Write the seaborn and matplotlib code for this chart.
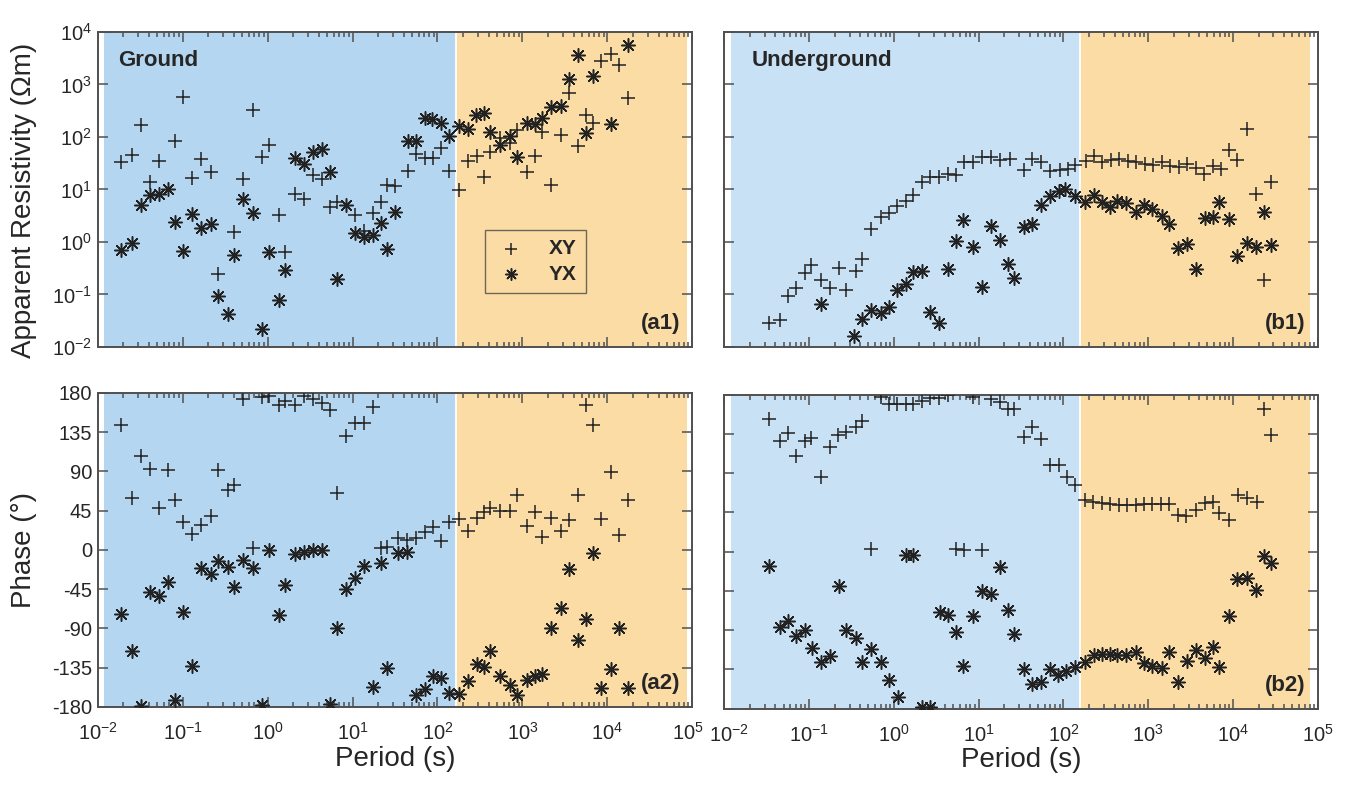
import numpy as np
import matplotlib.pyplot as plt
import seaborn as sns
from matplotlib.ticker import LogLocator, FixedLocator, NullLocator, NullFormatter
from matplotlib.transforms import ScaledTranslation

# values, stored as log10(period [s]) and
# log10(apparent resistivity [Ohm m]) / phase [deg]

# ---- Ground (a1, a2)
a1_xy_logT = [-1.72, -1.60, -1.49, -1.38, -1.28, -1.09, -1.00, -0.89, -0.78, -0.67, -0.58, -0.40, -0.29, -0.17,
              -0.07, 0.02, 0.13, 0.21, 0.32, 0.43, 0.53, 0.64, 0.74, 0.82, 1.03, 1.14, 1.24, 1.34, 1.41, 1.50,
              1.65, 1.75, 1.85, 1.95, 2.04, 2.14, 2.25, 2.36, 2.46, 2.55, 2.62, 2.73, 2.85, 2.94, 3.05, 3.15,
              3.23, 3.34, 3.45, 3.55, 3.65, 3.75, 3.83, 3.93, 4.04, 4.14, 4.24]
a1_xy_logrho = [1.53, 1.66, 2.23, 1.14, 1.54, 1.93, 2.77, 1.22, 1.58, 1.34, -0.61, 0.19, 1.20, 2.51,
                1.61, 1.84, 0.52, -0.19, 0.92, 0.82, 1.27, 1.20, 0.67, 0.76, 0.51, 0.20, 0.55, 0.77, 1.08, 1.07,
                1.36, 1.67, 1.60, 1.60, 1.79, 1.36, 0.99, 1.54, 1.63, 1.23, 1.72, 1.99, 1.88, 2.13, 1.34, 1.64,
                2.09, 1.09, 2.04, 2.83, 1.82, 2.42, 2.26, 3.44, 3.59, 3.37, 2.75]

a1_yx_logT = [-1.72, -1.60, -1.49, -1.38, -1.28, -1.17, -1.09, -1.00, -0.89, -0.78, -0.67, -0.58, -0.47, -0.40,
              -0.29, -0.17, -0.07, 0.02, 0.13, 0.21, 0.32, 0.43, 0.53, 0.64, 0.74, 0.82, 0.92, 1.03, 1.14, 1.24,
              1.34, 1.41, 1.50, 1.65, 1.75, 1.85, 1.94, 2.04, 2.14, 2.25, 2.36, 2.45, 2.55, 2.62, 2.73, 2.85,
              2.94, 3.05, 3.15, 3.23, 3.34, 3.45, 3.55, 3.65, 3.75, 3.83, 4.04, 4.24]
a1_yx_logrho = [-0.16, -0.02, 0.70, 0.90, 0.91, 1.01, 0.38, -0.18, 0.54, 0.27, 0.35, -1.03, -1.38, -0.24,
                0.82, 0.55, -1.65, -0.19, -1.11, -0.54, 1.60, 1.48, 1.71, 1.77, 1.33, -0.70, 0.70, 0.17, 0.10, 0.14,
                0.37, -0.13, 0.58, 1.93, 1.93, 2.37, 2.34, 2.26, 2.02, 2.21, 2.15, 2.42, 2.45, 2.09, 1.84, 2.02,
                1.61, 2.27, 2.25, 2.37, 2.58, 2.59, 3.11, 3.57, 2.07, 3.17, 2.25, 3.76]

a2_logT = [-1.72, -1.60, -1.49, -1.38, -1.28, -1.17, -1.09, -1.00, -0.89, -0.78, -0.67, -0.58, -0.47, -0.40,
           -0.29, -0.17, -0.07, 0.02, 0.13, 0.21, 0.32, 0.43, 0.53, 0.64, 0.74, 0.82, 0.92, 1.03, 1.14, 1.24,
           1.34, 1.41, 1.54, 1.64, 1.75, 1.85, 1.95, 2.04, 2.14, 2.25, 2.36, 2.46, 2.55, 2.62, 2.73, 2.85,
           2.94, 3.05, 3.15, 3.23, 3.34, 3.45, 3.55, 3.65, 3.75, 3.83, 3.93, 4.04, 4.14, 4.24]
a2_xy_phase = [143, 59, 108, 93, 48, 92, 57, 32, 18, 29, 39, 92, 69, 75,
               173, 2, 175, 176, 166, 171, 166, 177, 173, 169, 161, 65, 131, 145, 145, 164,
               2, 3, 14, 11, 14, 21, 26, 10, 32, 35, 22, 37, 44, 48, 45, 45,
               63, 28, 43, 15, 37, 22, 34, 63, 166, 143, 35, 89, 17, 57]
a2_yx_phase = [-73, -116, -179, -48, -53, -37, -172, -71, -133, -21, -28, -13, -20, -42,
               -11, -21, -178, 0, -75, -40, -5, -2, 0, 0, -177, -89, -45, -32, -18, -157,
               -15, -135, -4, -2, -166, -159, -145, -147, -164, -165, -150, -131, -134, -116, -145, -155,
               -166, -149, -144, -142, -90, -66, -22, -103, -79, -4, -158, -136, -89, -158]

# ---- Underground (b1, b2)
b1_xy_logT = [-1.47, -1.35, -1.25, -1.15, -1.05, -0.98, -0.86, -0.76, -0.65, -0.56, -0.45, -0.38, -0.27, -0.15,
              -0.06, 0.04, 0.14, 0.22, 0.33, 0.43, 0.53, 0.64, 0.73, 0.83, 0.93, 1.04, 1.14, 1.25, 1.37, 1.53,
              1.63, 1.74, 1.84, 1.96, 2.05, 2.14, 2.26, 2.36, 2.46, 2.56, 2.66, 2.76, 2.86, 2.96, 3.06, 3.16,
              3.26, 3.36, 3.46, 3.56, 3.66, 3.76, 3.86, 3.95, 4.05, 4.16, 4.27, 4.37, 4.45]
b1_xy_logrho = [-1.54, -1.49, -1.03, -0.87, -0.59, -0.43, -0.72, -0.87, -0.49, -0.91, -0.56, -0.32, 0.25, 0.47,
                0.56, 0.69, 0.79, 0.89, 1.15, 1.23, 1.23, 1.30, 1.28, 1.52, 1.52, 1.61, 1.61, 1.56, 1.58, 1.37,
                1.58, 1.52, 1.36, 1.37, 1.39, 1.47, 1.54, 1.63, 1.53, 1.56, 1.58, 1.55, 1.53, 1.49, 1.47, 1.52,
                1.44, 1.42, 1.48, 1.41, 1.29, 1.44, 1.39, 1.75, 1.56, 2.15, 0.91, -0.73, 1.15]

b1_yx_logT = [-0.86, -0.47, -0.38, -0.27, -0.15, -0.06, 0.04, 0.14, 0.22, 0.33, 0.43, 0.53, 0.64, 0.73,
              0.82, 0.93, 1.04, 1.14, 1.25, 1.34, 1.42, 1.53, 1.63, 1.74, 1.84, 1.95, 2.02, 2.14, 2.25, 2.36,
              2.45, 2.55, 2.63, 2.74, 2.85, 2.95, 3.05, 3.16, 3.24, 3.35, 3.46, 3.56, 3.67, 3.76, 3.83, 3.95,
              4.05, 4.16, 4.27, 4.37, 4.45]
b1_yx_logrho = [-1.18, -1.79, -1.46, -1.29, -1.35, -1.23, -0.91, -0.80, -0.58, -0.56, -1.33, -1.55, -0.51, 0.01,
                0.41, -0.10, -0.86, 0.30, 0.04, -0.42, -0.68, 0.29, 0.35, 0.71, 0.87, 0.98, 1.01, 0.87, 0.77, 0.89,
                0.76, 0.66, 0.79, 0.74, 0.58, 0.71, 0.63, 0.50, 0.35, -0.11, -0.04, -0.51, 0.46, 0.47, 0.77, 0.44,
                -0.27, -0.02, -0.10, 0.58, -0.06]

b2_xy_logT = [-1.47, -1.35, -1.25, -1.15, -1.05, -0.98, -0.86, -0.76, -0.66, -0.56, -0.45, -0.38, -0.27, -0.15,
              -0.06, 0.04, 0.14, 0.22, 0.33, 0.43, 0.53, 0.64, 0.73, 0.83, 0.93, 1.04, 1.14, 1.25, 1.34, 1.42,
              1.53, 1.63, 1.74, 1.84, 1.95, 2.04, 2.14, 2.25, 2.35, 2.45, 2.55, 2.65, 2.75, 2.85, 2.95, 3.05,
              3.15, 3.25, 3.35, 3.45, 3.56, 3.67, 3.76, 3.84, 3.95, 4.06, 4.17, 4.28, 4.37, 4.45]
b2_xy_phase = [152, 127, 136, 110, 127, 130, 86, 120, 134, 137, 143, 150, 3, 177,
               169, 169, 169, 169, 173, 176, 176, 179, 3, 2, 177, 2, 175, 171, 164, 164,
               131, 143, 129, 99, 99, 85, 76, 59, 57, 56, 55, 54, 54, 54, 55, 55,
               55, 55, 42, 41, 48, 56, 57, 44, 36, 65, 61, 57, 164, 134]

b2_yx_logT = [-1.47, -1.35, -1.25, -1.15, -1.05, -0.97, -0.86, -0.76, -0.65, -0.56, -0.45, -0.38, -0.27, -0.15,
              -0.06, 0.05, 0.14, 0.22, 0.33, 0.43, 0.54, 0.64, 0.73, 0.82, 0.93, 1.04, 1.15, 1.25, 1.34, 1.42,
              1.53, 1.63, 1.74, 1.84, 1.94, 2.03, 2.14, 2.25, 2.36, 2.45, 2.55, 2.63, 2.74, 2.85, 2.95, 3.05,
              3.16, 3.24, 3.35, 3.46, 3.56, 3.67, 3.76, 3.84, 3.95, 4.05, 4.16, 4.27, 4.36, 4.45]
b2_yx_phase = [-16, -86, -80, -97, -90, -111, -126, -120, -39, -90, -99, -126, -112, -126,
               -147, -167, -4, -4, -178, -178, -69, -73, -92, -131, -74, -45, -49, -18, -67, -94,
               -135, -152, -149, -134, -142, -137, -132, -127, -119, -117, -117, -119, -119, -115, -128, -131,
               -133, -115, -150, -125, -113, -122, -109, -132, -74, -31, -30, -44, -5, -13]

# shaded period bands (log10 s): near-field / far-field
ground_bands = (-1.93, 2.22, 4.94)
underground_bands = (-1.92, 2.20, 4.91)

period_decades = [1e-2, 1e-1, 1e0, 1e1, 1e2, 1e3, 1e4, 1e5]
rho_decades = [1e-2, 1e-1, 1e0, 1e1, 1e2, 1e3, 1e4]
phase_ticks = [-180, -135, -90, -45, 0, 45, 90, 135, 180]

blue_a = '#b5d6f1'
blue_b = '#c9e1f5'
orange = '#fbdca5'
ink = '#222222'
frame = '#505050'

sns.set_style('ticks')
plt.rcParams['font.family'] = ['Liberation Sans', 'DejaVu Sans']
plt.rcParams['mathtext.default'] = 'regular'

fig = plt.figure(figsize=(13.47, 7.94), dpi=100)
ax_a1 = fig.add_axes([0.0725, 0.563, 0.4415, 0.3967])
ax_a2 = fig.add_axes([0.0725, 0.1096, 0.4415, 0.3955])
ax_b1 = fig.add_axes([0.5378, 0.563, 0.4405, 0.3967])
ax_b2 = fig.add_axes([0.5378, 0.1075, 0.4405, 0.3955])

star = (8, 2, 0)


def panel(ax, bands, blue, xy_T, xy_v, yx_T, yx_v, log_y):
    lo, mid, hi = bands
    ax.set_facecolor('white')
    ax.axvspan(10 ** lo, 10 ** mid, color=blue, lw=0, zorder=0)
    ax.axvspan(10 ** mid, 10 ** hi, color=orange, lw=0, zorder=0)
    ax.axvline(10 ** mid, color='white', lw=1.3, zorder=1)
    yv1 = 10 ** np.array(xy_v) if log_y else np.array(xy_v)
    yv2 = 10 ** np.array(yx_v) if log_y else np.array(yx_v)
    sns.scatterplot(x=10 ** np.array(xy_T), y=yv1, marker='+', s=110, color=ink,
                    linewidth=1.1, ax=ax, legend=False, label='XY', zorder=3)
    sns.scatterplot(x=10 ** np.array(yx_T), y=yv2, marker=star, s=95, color=ink,
                    linewidth=1.1, ax=ax, legend=False, label='YX', zorder=3)
    ax.set_xscale('log')
    ax.set_xlim(1e-2, 1e5)
    if log_y:
        ax.set_yscale('log')
        ax.set_ylim(1e-2, 1e4)
        ax.yaxis.set_major_locator(FixedLocator(rho_decades))
        ax.yaxis.set_minor_locator(NullLocator())
    else:
        ax.set_ylim(-180, 180)
        ax.yaxis.set_major_locator(FixedLocator(phase_ticks))
        ax.set_yticklabels([str(v) for v in phase_ticks])
    ax.xaxis.set_major_locator(FixedLocator(period_decades))
    ax.xaxis.set_minor_locator(LogLocator(base=10, subs=np.arange(2, 10), numticks=100))
    ax.xaxis.set_minor_formatter(NullFormatter())
    ax.tick_params(which='both', direction='in', top=True, right=True, color=frame, width=1.1,
                   labelsize=14.5)
    ax.tick_params(axis='x', which='major', length=7, pad=11)
    ax.tick_params(axis='y', which='major', length=7, pad=4)
    ax.tick_params(which='minor', length=3.5)
    for sp in ax.spines.values():
        sp.set_color(frame)
        sp.set_linewidth(1.4)
    ax.set_xlabel('')
    ax.set_ylabel('')


panel(ax_a1, ground_bands, blue_a, a1_xy_logT, a1_xy_logrho, a1_yx_logT, a1_yx_logrho, True)
panel(ax_a2, ground_bands, blue_a, a2_logT, a2_xy_phase, a2_logT, a2_yx_phase, False)
panel(ax_b1, underground_bands, blue_b, b1_xy_logT, b1_xy_logrho, b1_yx_logT, b1_yx_logrho, True)
panel(ax_b2, underground_bands, blue_b, b2_xy_logT, b2_xy_phase, b2_yx_logT, b2_yx_phase, False)

for ax in (ax_a1, ax_b1):
    ax.tick_params(labelbottom=False)
for ax in (ax_b1, ax_b2):
    ax.tick_params(labelleft=False)

for ax in (ax_a2, ax_b2):
    ax.set_xlabel('Period (s)', fontsize=20, labelpad=1)

fig.text(0.018, 0.748, 'Apparent Resistivity (Ωm)', rotation=90, ha='center', va='center', fontsize=20)
fig.text(0.018, 0.307, 'Phase (°)', rotation=90, ha='center', va='center', fontsize=20)

ax_a1.text(0.034, 0.911, 'Ground', transform=ax_a1.transAxes, fontsize=16, fontweight='bold',
           ha='left', va='center')
ax_b1.text(0.046, 0.911, 'Underground', transform=ax_b1.transAxes, fontsize=16, fontweight='bold',
           ha='left', va='center')
for ax, tag in ((ax_a1, '(a1)'), (ax_a2, '(a2)'), (ax_b1, '(b1)'), (ax_b2, '(b2)')):
    ax.text(0.98, 0.075, tag, transform=ax.transAxes, fontsize=16, fontweight='bold',
            ha='right', va='center', zorder=5)

leg = ax_a1.legend(loc='upper left', bbox_to_anchor=(0.652, 0.371), frameon=True, fancybox=False,
                   edgecolor='#6e6656', facecolor='none', framealpha=1,
                   prop=dict(weight='bold', size=15),
                   handlelength=1.6, handletextpad=1.0, borderpad=0.45, labelspacing=0.3,
                   borderaxespad=0, markerscale=0.85)
leg.get_frame().set_linewidth(1.0)
leg.set_zorder(6)

# nudge the two neighbouring end labels (10^5 of a2, 10^-2 of b2) apart a little
fig.canvas.draw()
end_lab = ax_a2.xaxis.get_major_ticks()[-1].label1
end_lab.set_transform(end_lab.get_transform() + ScaledTranslation(-3 / 72, 0, fig.dpi_scale_trans))
start_lab = ax_b2.xaxis.get_major_ticks()[0].label1
start_lab.set_transform(start_lab.get_transform() + ScaledTranslation(3 / 72, 0, fig.dpi_scale_trans))

fig.savefig('out.png', dpi=100, facecolor='white')
